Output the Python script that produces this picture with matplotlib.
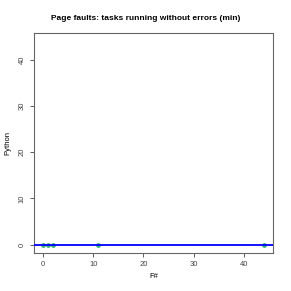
import matplotlib
matplotlib.use("Agg")
import matplotlib.pyplot as plt

plt.rcParams["font.family"] = ["Liberation Sans", "DejaVu Sans"]

# values
fsharp = [0, 1, 2, 11, 44]
python = [0, 0, 0, 0, 0]
xticks = [0, 10, 20, 30, 40]
yticks = [0, 10, 20, 30, 40]

fig = plt.figure(figsize=(2.91, 2.91), dpi=100)
ax = fig.add_axes([0.117, 0.131, 0.821, 0.756])

ax.scatter(fsharp, python, s=6, color="#3cb371", zorder=2)
ax.axhline(0, color="blue", linewidth=1.3, zorder=3)

lo, hi = -1.76, 45.76
ax.set_xlim(lo, hi)
ax.set_ylim(lo, hi)
ax.set_xticks(xticks)
ax.set_yticks(yticks)
ax.tick_params(labelsize=5.5, length=3, width=0.6, colors="#444444", pad=3)
for lab in ax.get_yticklabels():
    lab.set_rotation(90)
    lab.set_va("center")
for s in ax.spines.values():
    s.set_linewidth(0.8)
    s.set_color("#666666")

ax.set_xlabel("F#", fontsize=5.5, va="center")
ax.set_ylabel("Python", fontsize=5.5, va="center")
ax.xaxis.set_label_coords(0.5, -0.109)
ax.yaxis.set_label_coords(-0.108, 0.5)
fig.text(0.5, 0.935, "Page faults: tasks running without errors (min)",
         ha="center", va="center", fontsize=6, fontweight="bold")

fig.savefig("out.png", dpi=100)
